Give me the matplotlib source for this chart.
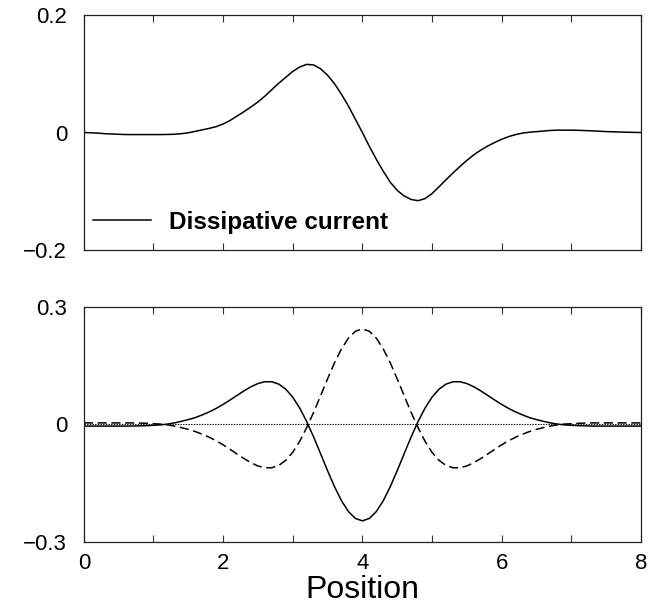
import numpy as np
import matplotlib
matplotlib.use("Agg")
import matplotlib.pyplot as plt

plt.rcParams['font.family'] = ['Liberation Sans', 'DejaVu Sans']

# Position grid 0..8 step 0.1
position = np.round(np.arange(81) * 0.1, 1)

dissipative_current = [
    0.000, -0.0005, -0.001, -0.002, -0.0025, -0.003, -0.0035, -0.0035, -0.0035, -0.0035,
    -0.0035, -0.0035, -0.0033, -0.003, -0.002, -0.0005, 0.002, 0.0045, 0.007, 0.010,
    0.0145, 0.0205, 0.028, 0.0355, 0.0435, 0.052, 0.062, 0.073, 0.084, 0.094,
    0.104, 0.1115, 0.116, 0.115, 0.1085, 0.0975, 0.083, 0.065, 0.045, 0.0225,
    0.000, -0.0235, -0.0455, -0.066, -0.0845, -0.0985, -0.108, -0.114, -0.116, -0.1125,
    -0.104, -0.0925, -0.0805, -0.069, -0.058, -0.0475, -0.038, -0.030, -0.023, -0.017,
    -0.0115, -0.007, -0.0035, -0.001, 0.0005, 0.0015, 0.0025, 0.0035, 0.004, 0.004,
    0.004, 0.0037, 0.0033, 0.0028, 0.0022, 0.0016, 0.0012, 0.0008, 0.0005, 0.0002, 0.000,
]

solid_lower = [
    -0.004, -0.004, -0.004, -0.004, -0.004, -0.004, -0.004, -0.004, -0.0035, -0.003,
    -0.002, -0.001, 0.001, 0.004, 0.008, 0.0125, 0.0175, 0.0245, 0.032, 0.041,
    0.0512, 0.0625, 0.0742, 0.0858, 0.0963, 0.1045, 0.1092, 0.109, 0.103, 0.090,
    0.0696, 0.0419, 0.0076, -0.032, -0.0747, -0.118, -0.159, -0.1947, -0.2224, -0.240,
    -0.246, -0.240, -0.2224, -0.1947, -0.159, -0.118, -0.0747, -0.032, 0.0076, 0.0419,
    0.0696, 0.090, 0.103, 0.109, 0.1092, 0.1045, 0.0963, 0.0858, 0.0742, 0.0625,
    0.0512, 0.041, 0.032, 0.0245, 0.0175, 0.0125, 0.008, 0.004, 0.001, -0.001,
    -0.002, -0.003, -0.0035, -0.004, -0.004, -0.004, -0.004, -0.004, -0.004, -0.004, -0.004,
]

dashed_lower = [
    0.004, 0.004, 0.004, 0.004, 0.004, 0.004, 0.004, 0.004, 0.0035, 0.003,
    0.002, 0.001, -0.001, -0.004, -0.008, -0.0125, -0.018, -0.025, -0.0325, -0.0415,
    -0.052, -0.0635, -0.0755, -0.087, -0.0975, -0.106, -0.1105, -0.1105, -0.1045, -0.0915,
    -0.071, -0.043, -0.008, 0.031, 0.0735, 0.1165, 0.1575, 0.193, 0.2205, 0.238,
    0.244, 0.238, 0.2205, 0.193, 0.1575, 0.1165, 0.0735, 0.031, -0.008, -0.043,
    -0.071, -0.0915, -0.1045, -0.1105, -0.1105, -0.106, -0.0975, -0.087, -0.0755, -0.0635,
    -0.052, -0.0415, -0.0325, -0.025, -0.018, -0.0125, -0.008, -0.004, -0.001, 0.001,
    0.002, 0.003, 0.0035, 0.004, 0.004, 0.004, 0.004, 0.004, 0.004, 0.004, 0.004,
]

x_ticks = [0, 2, 4, 6, 8]
x_minor = [1, 3, 5, 7]
top_yticks = [-0.2, 0, 0.2]
top_ylabels = ['\u22120.2', '0', '0.2']
bot_yticks = [-0.3, 0, 0.3]
bot_ylabels = ['\u22120.3', '0', '0.3']

fig = plt.figure(figsize=(6.5, 6.08), dpi=100)
ax1 = fig.add_axes([0.129, 0.5888, 0.857, 0.3865])
ax2 = fig.add_axes([0.129, 0.1086, 0.857, 0.3865])

ax1.plot(position, dissipative_current, color='black', lw=1.1, label='Dissipative current')
ax1.set_ylim(-0.2, 0.2)

ax2.axhline(0, color='black', lw=0.8, linestyle=(0, (1.2, 1.2)))
ax2.plot(position, solid_lower, color='black', lw=1.1)
ax2.plot(position, dashed_lower, color='black', lw=1.1, linestyle=(0, (6, 3)))
ax2.set_ylim(-0.3, 0.3)

for ax, yt, yl in ((ax1, top_yticks, top_ylabels), (ax2, bot_yticks, bot_ylabels)):
    ax.set_xlim(0, 8)
    ax.set_xticks(x_ticks)
    ax.set_xticks(x_minor, minor=True)
    ax.set_yticks(yt)
    ax.set_yticklabels(yl)
    ax.tick_params(axis='x', which='both', direction='in', top=True, bottom=True,
                   length=5, width=0.8, color='#333333', labelsize=16, pad=8)
    ax.tick_params(axis='y', which='both', length=0, labelsize=16, pad=12)
    for s in ax.spines.values():
        s.set_linewidth(0.9)
        s.set_color('#222222')

ax1.tick_params(axis='x', labelbottom=False)
ax2.set_xlabel('Position', fontsize=23, labelpad=1)

leg = ax1.legend(loc='center left', bbox_to_anchor=(0.016, 0.119), frameon=False,
                 borderpad=0, borderaxespad=0, handlelength=2.4, handletextpad=0.75,
                 prop={'weight': 'bold', 'size': 17.5})

fig.savefig('out.png', dpi=100)
